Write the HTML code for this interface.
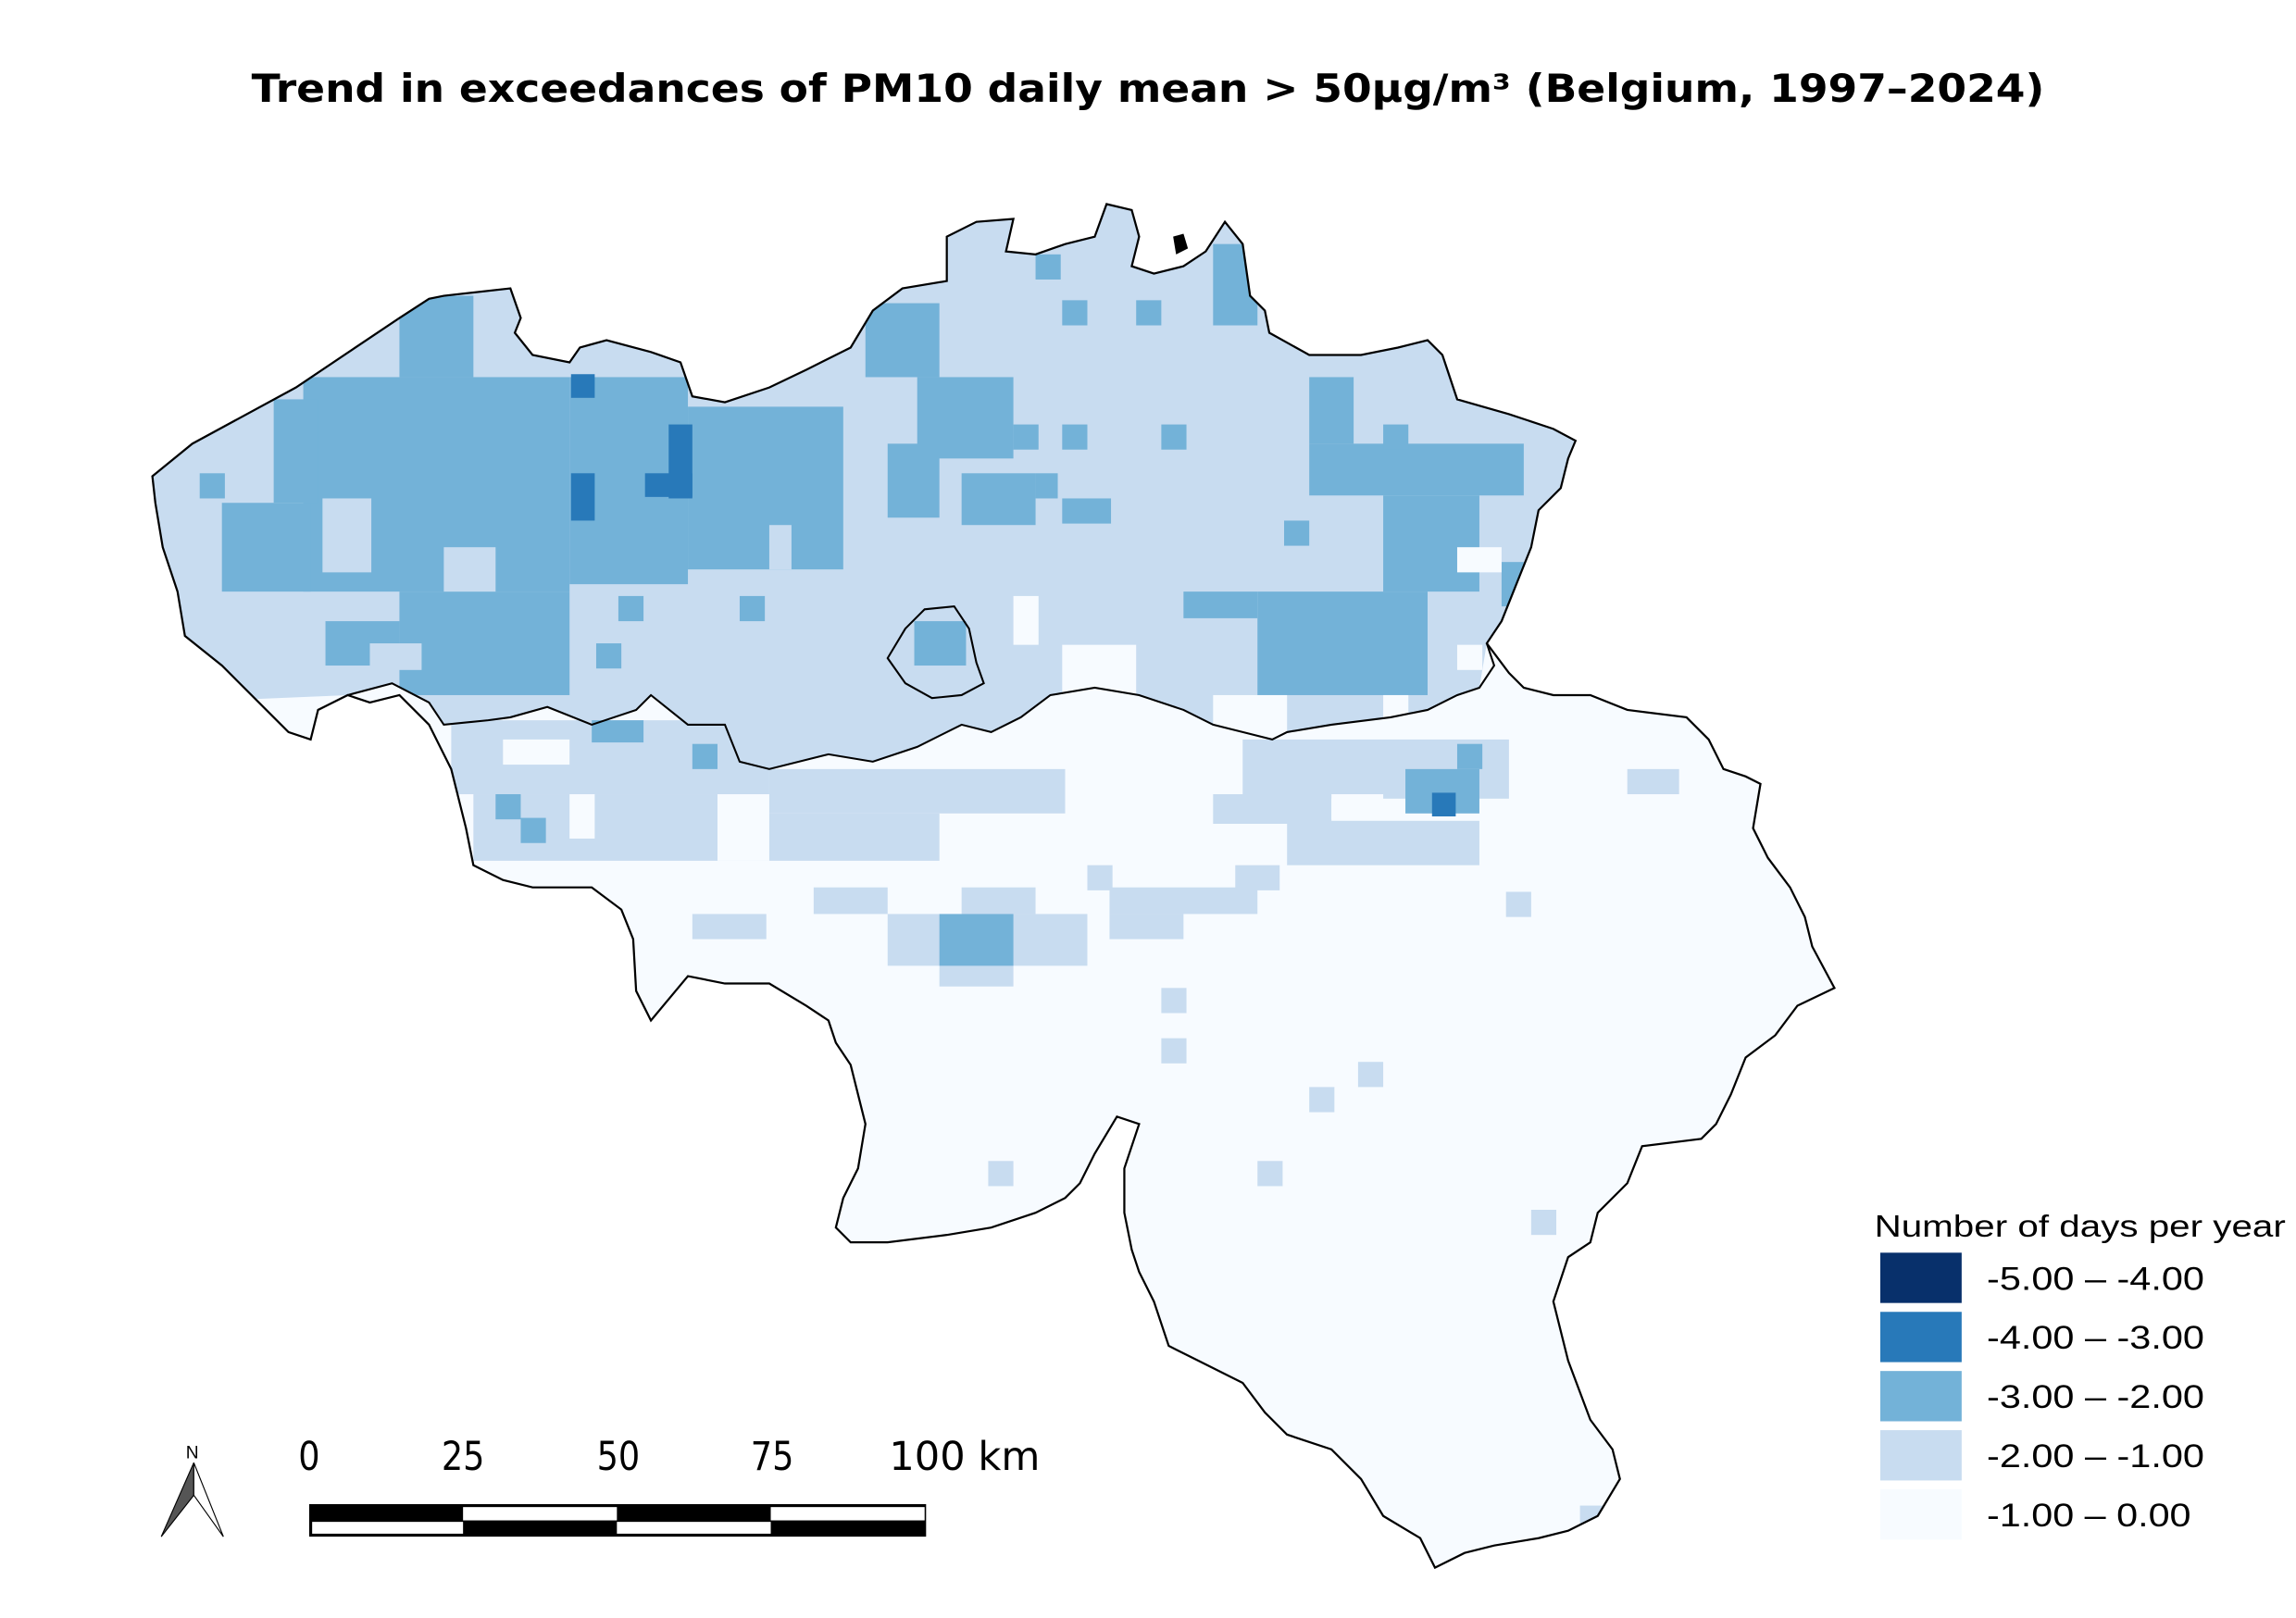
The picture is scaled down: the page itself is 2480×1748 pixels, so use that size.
<!DOCTYPE html>
<html><head><meta charset="utf-8">
<style>
html,body{margin:0;padding:0;background:#fff;}
svg{display:block;}
</style></head>
<body>
<svg width="2480" height="1748" viewBox="0 0 1552 1094" preserveAspectRatio="none" xmlns="http://www.w3.org/2000/svg">
<defs>
<clipPath id="be"><path id="outline" d="M103,322 L130,300 L200,262 L270,215 L290,202 L300,200 L345,195 L352,215 L348,225 L360,240 L385,245 L392,235 L410,230 L440,238 L460,245 L468,268 L490,272 L520,262 L545,250 L575,235 L590,210 L610,195 L640,190 L640,160 L660,150 L685,148 L680,170 L700,172 L720,165 L740,160 L748,138 L765,142 L770,160 L765,180 L780,185 L800,180 L815,170 L828,150 L840,165 L845,200 L855,210 L858,225 L885,240 L920,240 L945,235 L965,230 L975,240 L985,270 L1020,280 L1050,290 L1065,298 L1060,310 L1055,330 L1040,345 L1035,370 L1025,395 L1015,420 L1005,435 L1020,455 L1030,465 L1050,470 L1075,470 L1100,480 L1140,485 L1155,500 L1165,520 L1180,525 L1190,530 L1185,560 L1195,580 L1210,600 L1220,620 L1225,640 L1240,668 L1215,680 L1200,700 L1180,715 L1170,740 L1160,760 L1150,770 L1110,775 L1100,800 L1080,820 L1075,840 L1060,850 L1050,880 L1060,920 L1075,960 L1090,980 L1095,1000 L1080,1025 L1060,1035 L1040,1040 L1010,1045 L990,1050 L970,1060 L960,1040 L935,1025 L920,1000 L900,980 L870,970 L855,955 L840,935 L810,920 L790,910 L780,880 L770,860 L765,845 L760,820 L760,790 L770,760 L755,755 L740,780 L730,800 L720,810 L700,820 L670,830 L640,835 L600,840 L575,840 L565,830 L570,810 L580,790 L585,760 L575,720 L565,705 L560,690 L545,680 L520,665 L490,665 L465,660 L440,690 L430,670 L428,635 L420,615 L400,600 L380,600 L360,600 L340,595 L320,585 L315,560 L305,520 L290,490 L270,470 L250,475 L235,470 L215,480 L210,500 L195,495 L185,485 L160,460 L150,450 L125,430 L120,400 L110,370 L105,340 Z"/></clipPath>
<clipPath id="fl"><path d="M0,0 L1552,0 L1552,300 L1005,435 L1000,465 L985,470 L965,480 L940,485 L900,490 L870,495 L860,500 L840,495 L820,490 L800,480 L770,470 L740,465 L710,470 L690,485 L670,495 L650,490 L620,505 L590,515 L560,510 L520,520 L500,515 L490,490 L465,490 L440,470 L430,480 L400,490 L370,478 L345,485 L330,487 L300,490 L290,475 L265,462 L235,470 L0,480 Z"/></clipPath>
</defs>
<g clip-path="url(#be)">
<rect x="0" y="0" width="1552" height="1094" fill="#f7fbff"/>
<g clip-path="url(#fl)">
<rect x="0" y="0" width="1552" height="1094" fill="#c8dcf0"/>
<g fill="#73b2d8">
<rect x="205" y="255" width="180" height="145"/>
<rect x="270" y="200" width="50" height="55"/>
<rect x="185" y="270" width="30" height="70"/>
<rect x="385" y="255" width="80" height="140"/>
<rect x="465" y="275" width="105" height="110"/>
<rect x="150" y="340" width="60" height="60"/>
<rect x="270" y="400" width="115" height="70"/>
<rect x="220" y="420" width="50" height="30"/>
<rect x="850" y="400" width="115" height="70"/>
<rect x="800" y="400" width="50" height="18"/>
<rect x="885" y="300" width="145" height="35"/>
<rect x="935" y="335" width="65" height="65"/>
<rect x="600" y="300" width="35" height="50"/>
<rect x="620" y="255" width="65" height="55"/>
<rect x="650" y="320" width="50" height="35"/>
<rect x="700" y="320" width="15" height="17"/>
<rect x="718" y="337" width="33" height="17"/>
<rect x="820" y="165" width="30" height="55"/>
<rect x="585" y="205" width="50" height="50"/>
<rect x="885" y="255" width="30" height="45"/>
<rect x="135" y="320" width="17" height="17"/>
<rect x="1015" y="380" width="15" height="30"/>
<rect x="618" y="420" width="35" height="30"/>
<rect x="718" y="203" width="17" height="17"/>
<rect x="768" y="203" width="17" height="17"/>
<rect x="785" y="287" width="17" height="17"/>
<rect x="718" y="287" width="17" height="17"/>
<rect x="685" y="287" width="17" height="17"/>
<rect x="935" y="287" width="17" height="17"/>
<rect x="700" y="172" width="17" height="17"/>
<rect x="500" y="403" width="17" height="17"/>
<rect x="418" y="403" width="17" height="17"/>
<rect x="403" y="435" width="17" height="17"/>
<rect x="868" y="352" width="17" height="17"/>
</g>
<g fill="#c8dcf0">
<rect x="218" y="337" width="33" height="50"/>
<rect x="300" y="370" width="35" height="30"/>
<rect x="250" y="435" width="35" height="18"/>
<rect x="520" y="355" width="15" height="30"/>
</g>
<g fill="#f7fbff">
<rect x="685" y="403" width="17" height="33"/>
<rect x="985" y="370" width="30" height="17"/>
<rect x="718" y="436" width="50" height="34"/>
<rect x="820" y="470" width="50" height="30"/>
<rect x="935" y="470" width="17" height="20"/>
<rect x="985" y="436" width="17" height="17"/>
</g>
<g fill="#2879b9">
<rect x="386" y="253" width="16" height="16"/>
<rect x="452" y="287" width="16" height="50"/>
<rect x="436" y="320" width="32" height="16"/>
<rect x="386" y="320" width="16" height="32"/>
</g>
</g>
<g fill="#c8dcf0">
<rect x="305" y="487" width="215" height="50"/>
<rect x="320" y="537" width="200" height="45"/>
<rect x="520" y="520" width="200" height="30"/>
<rect x="520" y="550" width="115" height="32"/>
<rect x="840" y="500" width="180" height="40"/>
<rect x="820" y="537" width="80" height="20"/>
<rect x="870" y="555" width="130" height="30"/>
<rect x="550" y="600" width="50" height="18"/>
<rect x="650" y="600" width="50" height="18"/>
<rect x="750" y="600" width="100" height="18"/>
<rect x="468" y="618" width="50" height="17"/>
<rect x="600" y="618" width="135" height="35"/>
<rect x="750" y="618" width="50" height="17"/>
<rect x="635" y="650" width="50" height="17"/>
<rect x="835" y="585" width="30" height="17"/>
<rect x="1100" y="520" width="35" height="17"/>
<rect x="785" y="668" width="17" height="17"/>
<rect x="785" y="702" width="17" height="17"/>
<rect x="918" y="718" width="17" height="17"/>
<rect x="885" y="735" width="17" height="17"/>
<rect x="668" y="785" width="17" height="17"/>
<rect x="850" y="785" width="17" height="17"/>
<rect x="1035" y="818" width="17" height="17"/>
<rect x="1068" y="1018" width="17" height="17"/>
<rect x="1018" y="603" width="17" height="17"/>
<rect x="735" y="585" width="17" height="17"/>
</g>
<g fill="#f7fbff">
<rect x="340" y="500" width="45" height="17"/>
<rect x="385" y="537" width="17" height="30"/>
<rect x="485" y="537" width="35" height="45"/>
<rect x="900" y="537" width="35" height="17"/>
</g>
<g fill="#73b2d8">
<rect x="950" y="520" width="50" height="30"/>
<rect x="985" y="503" width="17" height="17"/>
<rect x="635" y="618" width="50" height="35"/>
<rect x="335" y="537" width="17" height="17"/>
<rect x="352" y="553" width="17" height="17"/>
<rect x="468" y="503" width="17" height="17"/>
<rect x="400" y="487" width="35" height="15"/>
</g>
<rect x="968" y="536" width="16" height="16" fill="#2879b9"/>
</g>
<use href="#outline" fill="none" stroke="#000" stroke-width="1.4"/>
<path d="M235,470 L265,462 L290,475 L300,490 L330,487 L345,485 L370,478 L400,490 L430,480 L440,470 L465,490 L490,490 L500,515 L520,520 L560,510 L590,515 L620,505 L650,490 L670,495 L690,485 L710,470 L740,465 L770,470 L800,480 L820,490 L840,495 L860,500 L870,495 L900,490 L940,485 L965,480 L985,470 L1000,465 L1010,450 L1005,435" fill="none" stroke="#000" stroke-width="1.3"/>
<path d="M612,425 L625,412 L645,410 L655,425 L660,448 L665,462 L650,470 L630,472 L612,462 L600,445 Z" fill="none" stroke="#000" stroke-width="1.3"/>
<path d="M793,160 L800,158 L803,168 L795,172 Z" fill="#000"/>

<text x="776" y="69" text-anchor="middle" font-family="DejaVu Sans, Liberation Sans, sans-serif" font-weight="bold" font-size="26" textLength="1212" lengthAdjust="spacingAndGlyphs">Trend in exceedances of PM10 daily mean &gt; 50µg/m³ (Belgium, 1997–2024)</text>

<text x="1267" y="836" font-family="Liberation Sans, sans-serif" font-size="21" textLength="278" lengthAdjust="spacingAndGlyphs">Number of days per year</text>
<rect x="1271" y="847" width="55" height="34" fill="#08306b"/>
<rect x="1271" y="887" width="55" height="34" fill="#2879b9"/>
<rect x="1271" y="927" width="55" height="34" fill="#73b2d8"/>
<rect x="1271" y="967" width="55" height="34" fill="#c8dcf0"/>
<rect x="1271" y="1007" width="55" height="34" fill="#f7fbff"/>
<g font-family="Liberation Sans, sans-serif" font-size="22">
<text x="1343" y="872" textLength="147" lengthAdjust="spacingAndGlyphs">-5.00 – -4.00</text>
<text x="1343" y="912" textLength="147" lengthAdjust="spacingAndGlyphs">-4.00 – -3.00</text>
<text x="1343" y="952" textLength="147" lengthAdjust="spacingAndGlyphs">-3.00 – -2.00</text>
<text x="1343" y="992" textLength="147" lengthAdjust="spacingAndGlyphs">-2.00 – -1.00</text>
<text x="1343" y="1032" textLength="138" lengthAdjust="spacingAndGlyphs">-1.00 – 0.00</text>
</g>

<g font-family="DejaVu Sans, sans-serif" font-size="27">
<text x="209" y="994" text-anchor="middle" transform="translate(209,0) scale(0.85,1) translate(-209,0)">0</text>
<text x="313" y="994" text-anchor="middle" transform="translate(313,0) scale(0.85,1) translate(-313,0)">25</text>
<text x="418" y="994" text-anchor="middle" transform="translate(418,0) scale(0.85,1) translate(-418,0)">50</text>
<text x="522" y="994" text-anchor="middle" transform="translate(522,0) scale(0.85,1) translate(-522,0)">75</text>
<text x="601" y="994" textLength="102" lengthAdjust="spacingAndGlyphs">100 km</text>
</g>
<rect x="209" y="1017" width="417" height="22" fill="#000"/>
<rect x="313" y="1019" width="104" height="9" fill="#fff"/>
<rect x="521" y="1019" width="104" height="9" fill="#fff"/>
<rect x="211" y="1029" width="102" height="8" fill="#fff"/>
<rect x="417" y="1029" width="104" height="8" fill="#fff"/>

<text x="130" y="986" text-anchor="middle" font-family="Liberation Sans, sans-serif" font-size="12">N</text>
<path d="M131,989 L109,1039 L131,1011 Z" fill="#555" stroke="#000" stroke-width="0.7"/>
<path d="M131,989 L151,1039 L131,1011 Z" fill="#fff" stroke="#000" stroke-width="0.7"/>
</svg>
</body></html>
